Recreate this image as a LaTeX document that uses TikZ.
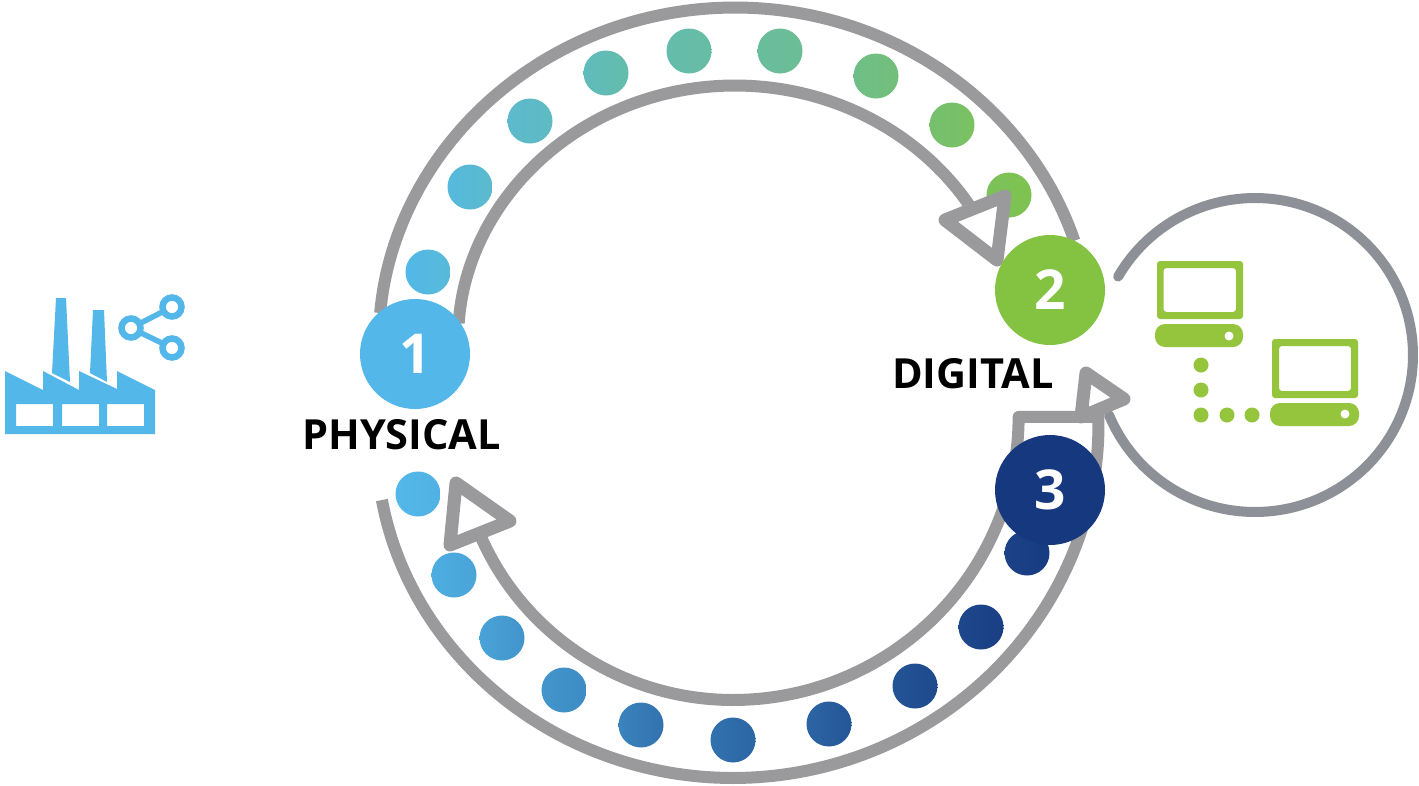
\documentclass[tikz,border=0pt]{standalone}
\usepackage{fontspec}
\setmainfont{Open Sans}
\definecolor{ringgray}{HTML}{9A9A9C}
\definecolor{loopgray}{HTML}{8E9097}
\definecolor{skyblue}{HTML}{53B8E9}
\definecolor{leafgreen}{HTML}{83C341}
\definecolor{navyblue}{HTML}{16387F}
\definecolor{pcgreen}{HTML}{94C53C}
\tikzset{
  declare function={
    qq(\u)=(\u)*(\u)*(\u)*(\u);
    rtop(\u)=374.5-13*qq(\u/79);
    rtin(\u)=296.5-14*qq(\u/78);
    rbotl(\u)=374-10*qq(\u/74.7);
    rbotr(\u)=374-8*qq(\u/87);
    rbinr(\u)=296-10*(\u/87)*(\u/87);
    rbinl(\u)=296-14*(\u/70)*(\u/70);
  },
  ringline/.style={draw=ringgray,line width=12pt,line join=round},
  headtri/.style={draw=ringgray,fill=white,line width=13pt,line join=round},
  flowdot/.style={circle,inner sep=0pt,minimum size=45pt},
  bigdot/.style={circle,inner sep=0pt,minimum size=110pt,text=white,font=\fontsize{55}{55}\selectfont\bfseries},
  caption/.style={inner sep=0pt,text=black,font=\fontsize{41.5}{41.5}\selectfont\bfseries},
  pcshape/.style={fill=pcgreen,draw=none},
  linkdot/.style={circle,fill=pcgreen,inner sep=0pt,minimum size=15pt},
}
\begin{document}
\begin{tikzpicture}[x=1pt,y=-1pt]
\useasboundingbox (0,0) rectangle (1419,785);
\fill[white] (0,0) rectangle (1419,785);
% rings
\draw[ringline] plot[variable=\t,domain=-79:67.4,samples=120] ({735+rtop(\t)*sin(\t)},{382-rtop(\t)*cos(\t)});
\draw[ringline] plot[variable=\t,domain=-78:57,samples=120] ({735+rtin(\t)*sin(\t)},{382-rtin(\t)*cos(\t)});
\draw[ringline] plot[variable=\t,domain=-74.7:0,samples=60] ({733+rbotl(\t)*sin(\t)},{404+rbotl(\t)*cos(\t)})
  -- plot[variable=\t,domain=0:88,samples=70] ({733+rbotr(\t)*sin(\t)},{404+rbotr(\t)*cos(\t)})
  -- plot[variable=\t,domain=87.4:0,samples=70] ({733+rbinr(\t)*sin(\t)},{404+rbinr(\t)*cos(\t)})
  -- plot[variable=\t,domain=0:-66,samples=60] ({733+rbinl(\t)*sin(\t)},{404+rbinl(\t)*cos(\t)});
% loop circle
\draw[loopgray,line width=10pt,line cap=round] plot[variable=\t,domain=210:517.6,samples=150] ({1255+158*cos(\t)},{355+157*sin(\t)});
% top dots
\foreach \px/\py/\a/\b [count=\i] in {428/272/100/90,470/187/93/83,530/121/83/76,606/73/73/63,689/51/64/58,780/51/55/49,876/76/42/34,952/125/27/19,1009/195/15/9}
  {\node[flowdot,left color=skyblue!\a!leafgreen,right color=skyblue!\b!leafgreen] (t\i) at (\px,\py) {};}
% bottom dots
\foreach \px/\py/\a/\b [count=\i] in {418/494/100/95,454/575/92/84,502/638/84/72,564/690/73/65,641/725/59/45,733/740/45/35,829/724/35/23,915/686/22/13,981/627/12/5,1027/553/8/2}
  {\node[flowdot,left color=skyblue!\a!navyblue,right color=skyblue!\b!navyblue] (b\i) at (\px,\py) {};}
% arrow heads
\draw[headtri] (1005,196) -- (945,220) -- (997,260) -- cycle;
\draw[headtri] (1086,373) -- (1124,399) -- (1081,417) -- cycle;
\draw[headtri] (456,483) -- (510,521) -- (450,545) -- cycle;
% numbered circles
\node[bigdot,fill=skyblue] (n1) at (415,354) {1};
\node[bigdot,fill=leafgreen] (n2) at (1050,290) {2};
\node[bigdot,fill=navyblue] (n3) at (1050,490) {3};
\node[caption,anchor=base west] (physical) at (302,449) {PHYSICAL};
\node[caption,anchor=base west] (digital) at (892,388) {DIGITAL};
% factory
\fill[skyblue,even odd rule] (5,371) -- (43,390) -- (43,371) -- (79,390) -- (79,371) -- (117,389) -- (117,371) -- (155,390) -- (155,434) -- (5,434) -- cycle
  (16,404) rectangle (53,426) (62,404) rectangle (99,426) (107,404) rectangle (144,426);
\fill[skyblue] (56,298) -- (66,298) -- (70,382) -- (52,373) -- cycle;
\fill[skyblue] (93,310) -- (104,310) -- (107,382) -- (90,373) -- cycle;
% share icon
\draw[skyblue,line width=5.5pt] (131,328) -- (172,307) (131,328) -- (172,348);
\foreach \px/\py [count=\i] in {131/328,172/307,172/348}
  {\node[circle,draw=skyblue,fill=white,line width=6.5pt,inner sep=0pt,minimum size=19pt] (s\i) at (\px,\py) {};}
% computers
\fill[pcshape,even odd rule,rounded corners=3pt] (1157,261) rectangle (1243,319) (1163.5,268) rectangle (1236,312);
\fill[pcshape,rounded corners=10pt] (1155,324) rectangle (1243,347);
\fill[white] (1229,336) circle (4.5pt);
\fill[pcshape,even odd rule,rounded corners=3pt] (1272,339) rectangle (1358,398) (1279,346) rectangle (1351,391);
\fill[pcshape,rounded corners=10pt] (1270,403) rectangle (1359,426);
\fill[white] (1345,414) circle (4.5pt);
\foreach \px/\py [count=\i] in {1201/365,1201/390,1201/415,1227/415,1252/415}
  {\node[linkdot] (l\i) at (\px,\py) {};}
\end{tikzpicture}
\end{document}
